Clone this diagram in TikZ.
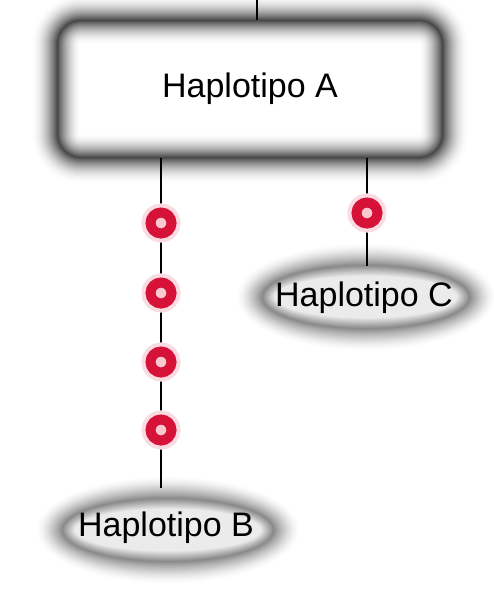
\documentclass[tikz,border=0pt]{standalone}
\usepackage{fontspec}
\setmainfont{Liberation Sans}
\usetikzlibrary{shapes.geometric}
\pgfdeclarelayer{bg}
\pgfdeclarelayer{lines}
\pgfsetlayers{bg,lines,main}
\definecolor{markred}{RGB}{214,18,56}
\definecolor{markhole}{RGB}{250,200,205}
\tikzset{
  hapbox/.style={rectangle, rounded corners=24pt, minimum width=386pt, minimum height=138pt, inner sep=0pt, font=\fontsize{34}{40}\selectfont},
  hapell/.style={ellipse, inner sep=0pt, label={[font=\fontsize{34}{40}\selectfont, inner sep=0pt]center:#1}},
  mutmark/.style={circle, inner sep=0pt, minimum size=21pt, fill=markhole, draw=markred, line width=10pt,
     preaction={draw=markred!15, line width=18pt}},
  link/.style={draw=black, line width=2pt}
}
\begin{document}
\begin{tikzpicture}[x=1pt, y=-1pt]
\useasboundingbox (0,0) rectangle (494,602);
\begin{pgfonlayer}{bg}
  \fill[white] (0,0) rectangle (494,602);
  % glow of box A
  \foreach \d in {-26,...,24}{
    \pgfmathsetmacro\p{\d<0 ? 72*(1+\d/27)^2 : 72*(1-\d/24)^1.8}
    \pgfmathsetmacro\r{max(2,24-\d)}
    \fill[black!\p, rounded corners=\r pt] ({57+\d},{20+\d}) rectangle ({443-\d},{158-\d});
  }
  \fill[white, rounded corners=4pt] (81,44) rectangle (419,134);
  % glow of ellipses
  \foreach \cx/\cy/\rx/\ry in {168/530/106/32, 366/297/104/32}{
    \foreach \d in {-26,...,12}{
      \pgfmathsetmacro\p{\d<0 ? 46*(1+\d/26)^1.5 : 46-36*\d/12}
      \fill[black!\p] (\cx,\cy) ellipse [x radius={\rx-\d}, y radius={\ry-0.85*\d}];
    }
    \fill[black!8] (\cx,\cy) ellipse [x radius={\rx-13}, y radius={\ry-11}];
  }
\end{pgfonlayer}

\node[hapbox] (A) at (250,89) {Haplotipo A};
\node[hapell={Haplotipo B}, minimum width=212pt, minimum height=64pt] (B) at (166,528) {};
\node[hapell={Haplotipo C}, minimum width=208pt, minimum height=64pt] (C) at (364,298) {};

\node[mutmark] (m1) at (161,223) {};
\node[mutmark] (m2) at (161,293) {};
\node[mutmark] (m3) at (161,362) {};
\node[mutmark] (m4) at (161,430) {};
\node[mutmark] (m5) at (367,213) {};

\coordinate (top) at (257,0);

\begin{pgfonlayer}{lines}
  \draw[link] (top) -- (top |- A.north);
  \draw[link] (A.south -| m1) -- (m1) -- (m2) -- (m3) -- (m4) -- ([yshift=8pt]B.north -| m4);
  \draw[link] (A.south -| m5) -- (m5) -- (C.north -| m5);
\end{pgfonlayer}
\end{tikzpicture}
\end{document}
